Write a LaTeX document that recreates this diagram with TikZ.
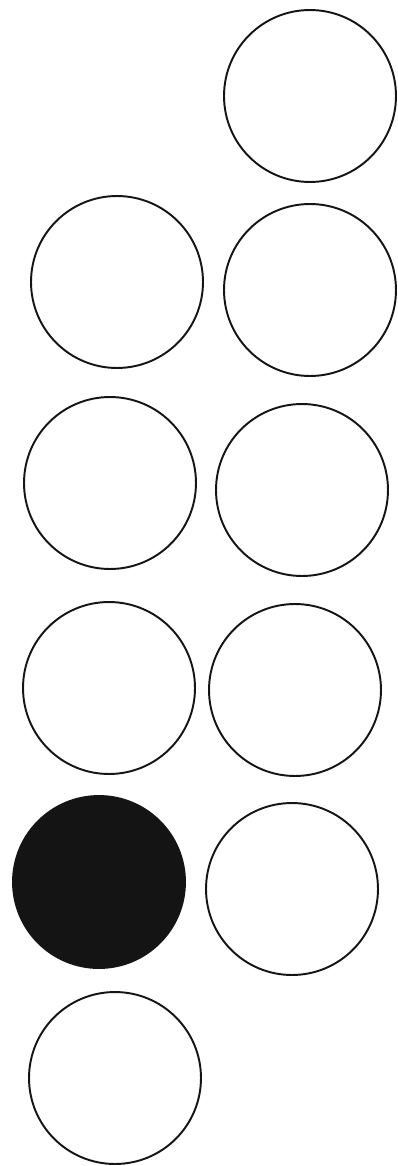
\documentclass[tikz,border=0pt]{standalone}
\usepackage{tikz}
\usetikzlibrary{positioning}
\definecolor{cInk}{HTML}{141414}
\definecolor{cPaper}{HTML}{FFFFFF}
\tikzset{
  disc/.style={circle,draw=cInk,line width=1.1pt,minimum size=3.44cm,inner sep=0pt,fill=#1},
  disc/.default=white,
}
\begin{document}
\begin{tikzpicture}[x=0.02cm,y=-0.02cm]
    \useasboundingbox[fill=cPaper] (0,0) rectangle (398,1166);
    \node[disc] (r1b) at (310,96)   {};
    \node[disc] (r2a) at (117,282)  {};
    \node[disc] (r2b) at (310,290)  {};
    \node[disc] (r3a) at (110,483)  {};
    \node[disc] (r3b) at (302,490)  {};
    \node[disc] (r4a) at (109,688)  {};
    \node[disc] (r4b) at (295,690)  {};
    \node[disc=cInk] (r5a) at (99,882) {};
    \node[disc] (r5b) at (292,889)  {};
    \node[disc] (r6a) at (115,1078) {};
  \end{tikzpicture}
\end{document}
